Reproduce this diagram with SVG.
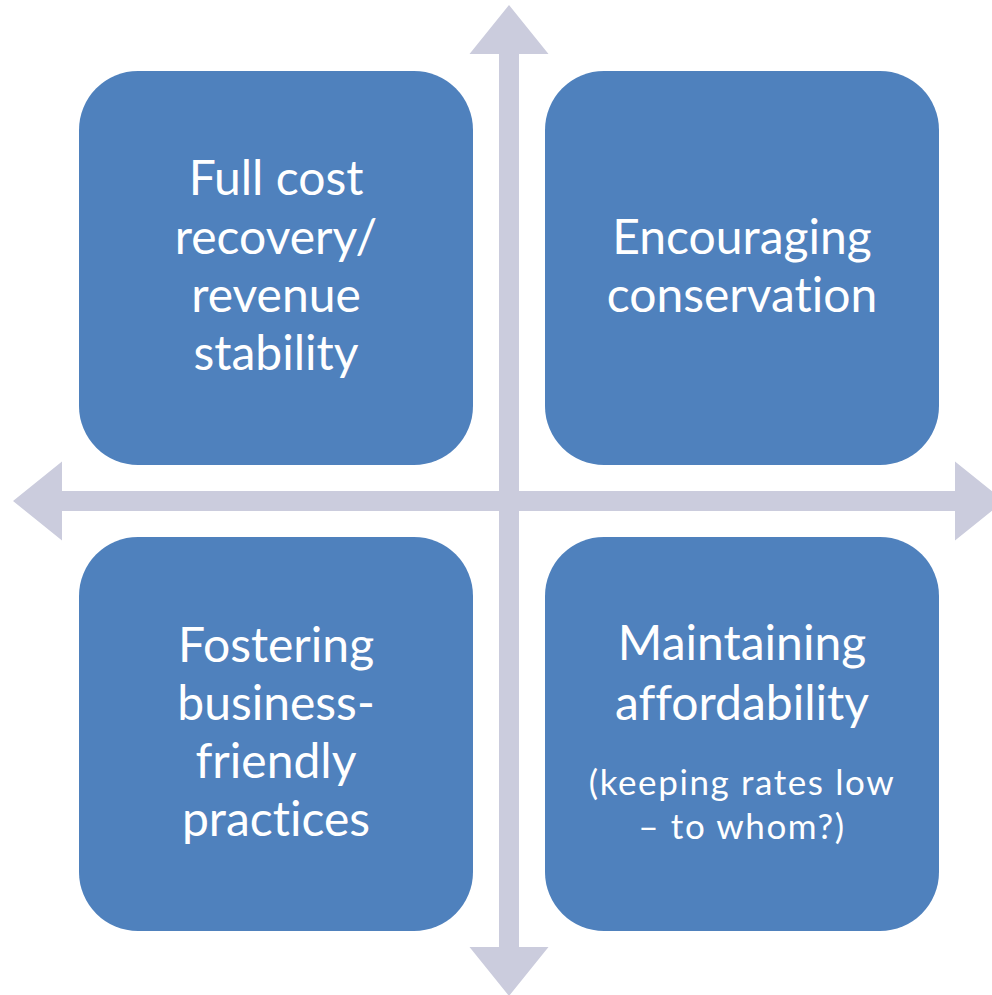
<svg xmlns="http://www.w3.org/2000/svg" width="992" height="995" viewBox="0 0 992 995">
<style>
.box{fill:#4F81BD}
.axis{fill:#CBCCDD}
.t{fill:#FFFFFF;font-family:Lato,"Open Sans","Liberation Sans",sans-serif;text-anchor:middle;font-size:48px;font-variant-ligatures:none}
.s{font-size:35px;letter-spacing:1.6px}
</style>
<rect width="992" height="995" fill="#FFFFFF"/>
<g id="connectors">
<polygon class="axis" points="509,5 548.5,54 519,54 519,947 548.5,947 509,996 469.5,947 499,947 499,54 469.5,54"/>
<polygon class="axis" points="13,501 62,461.5 62,491 955,491 955,461.5 1004,501 955,540.5 955,511 62,511 62,540.5"/>
</g>
<g id="node-full-cost">
<rect class="box" x="79" y="71" width="394" height="394" rx="59" ry="59"/>
<text class="t" x="276" y="195">Full cost</text>
<text class="t" x="276" y="253.5">recovery/</text>
<text class="t" x="276" y="312">revenue</text>
<text class="t" x="276" y="370">stability</text>
</g>
<g id="node-conservation">
<rect class="box" x="545" y="71" width="394" height="394" rx="59" ry="59"/>
<text class="t" x="742" y="254">Encouraging</text>
<text class="t" x="742" y="312">conservation</text>
</g>
<g id="node-business">
<rect class="box" x="79" y="537" width="394" height="394" rx="59" ry="59"/>
<text class="t" x="276" y="662">Fostering</text>
<text class="t" x="276" y="720">business-</text>
<text class="t" x="276" y="778">friendly</text>
<text class="t" x="276" y="836">practices</text>
</g>
<g id="node-affordability">
<rect class="box" x="545" y="537" width="394" height="394" rx="59" ry="59"/>
<text class="t" x="742" y="660">Maintaining</text>
<text class="t" x="742" y="720">affordability</text>
<text class="t s" x="742" y="795">(keeping rates low</text>
<text class="t s" x="742" y="839">– to whom?)</text>
</g>
</svg>
